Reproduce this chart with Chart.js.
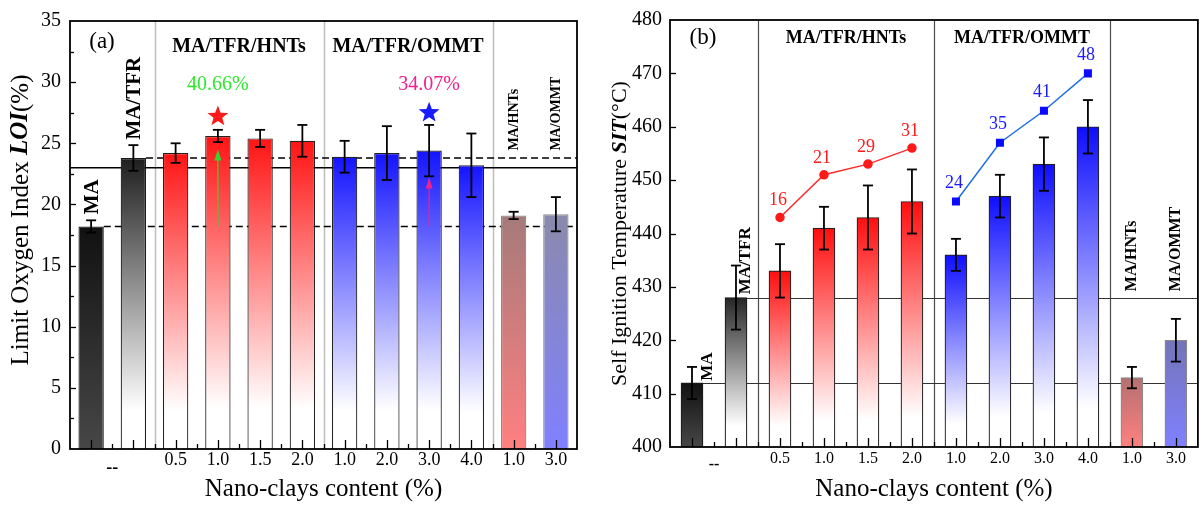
<!DOCTYPE html>
<html><head><meta charset="utf-8">
<script src="https://cdn.jsdelivr.net/npm/chart.js@4.4.1/dist/chart.umd.min.js"></script>
<style>
html,body{margin:0;padding:0;background:#fff;}
#wrap{position:relative;width:1204px;height:507px;overflow:hidden;background:#fff;}
#ca{position:absolute;left:0;top:0;}
#cb{position:absolute;left:600px;top:0;}
</style></head><body>
<div id="wrap"><canvas id="ca" width="600" height="507"></canvas><canvas id="cb" width="604" height="507"></canvas></div>
<script>
// ---------------- DATA ----------------
const positions = [1,2,3,4,5,6,7,8,9,10,11,12];
const tickLabels = ['', '', '0.5','1.0','1.5','2.0','1.0','2.0','3.0','4.0','1.0','3.0'];
const noClayLabel = '--';
const noClayTickPos = 1.5;
const groupBounds = [2.5, 6.5, 10.5];
const groupTitles = ['MA/TFR/HNTs','MA/TFR/OMMT'];
const groupCenters = [4.5, 8.5];

// (a) LOI
const loiValues = [18.2, 23.8, 24.2, 25.6, 25.4, 25.2, 23.9, 24.2, 24.4, 23.2, 19.1, 19.2];
const loiErrors = [0.5, 1.05, 0.8, 0.5, 0.7, 1.3, 1.3, 2.2, 2.1, 2.6, 0.3, 1.4];
const loiThreshold = 23;
const loiGainText = ['40.66%','34.07%'];
const loiGainPos = [4, 9];
const loiGainY = [29.8, 29.8];
const loiStarY = [27.2, 27.5];
const loiArrowTop = [24.5, 22.2];

// (b) SIT
const sitValues = [412, 428, 433, 441, 443, 446, 436, 447, 453, 460, 413, 420];
const sitErrors = [3, 6, 5, 4, 6, 6, 3, 4, 5, 5, 2, 4];
const hntPos = [3,4,5,6];
const hntSIT = [443, 451, 453, 456];
const hntIncrease = ['16','21','29','31'];
const ommtPos = [7,8,9,10];
const ommtSIT = [446, 457, 463, 470];
const ommtIncrease = ['24','35','41','48'];

// rotated sample names
const sampleNames = ['MA','MA/TFR','MA/HNTs','MA/OMMT'];
const sampleNamePosA = [1, 2, 11, 12];
const sampleNameBaseA = [19.2, 25.3, 24.4, 24.4];
const sampleNamePosB = [1.36, 2.23, 11, 12];
const sampleNameBaseB = [412.4, 428.6, 429.2, 429.2];

// ---------------- STYLE ----------------
const FONT = "'Liberation Serif','Times New Roman',serif";
const fnt = (size, weight, style) => `${style||''} ${weight||''} ${size}px ${FONT}`.trim();
const W = '#ffffff';
const stopsA = [
  [[0,'#111111'],[1,'#474747']],
  [[0,'#1e1e1e'],[0.87,W],[1,W]],
  [[0,'#ff1414'],[0.87,W],[1,W]],[[0,'#ff1414'],[0.87,W],[1,W]],[[0,'#ff1414'],[0.87,W],[1,W]],[[0,'#ff1414'],[0.87,W],[1,W]],
  [[0,'#1414ff'],[0.87,W],[1,W]],[[0,'#1414ff'],[0.87,W],[1,W]],[[0,'#1414ff'],[0.87,W],[1,W]],[[0,'#1414ff'],[0.87,W],[1,W]],
  [[0,'#a57a7a'],[1,'#ff8080']],
  [[0,'#8a8aac'],[1,'#8080ff']]
];
const stopsB = [
  [[0,'#111111'],[1,'#474747']],
  [[0,'#262626'],[0.86,W],[1,W]],
  [[0,'#ff0e0e'],[0.88,W],[1,W]],[[0,'#ff0e0e'],[0.88,W],[1,W]],[[0,'#ff0e0e'],[0.88,W],[1,W]],[[0,'#ff0e0e'],[0.88,W],[1,W]],
  [[0,'#0e0eff'],[0.88,W],[1,W]],[[0,'#0e0eff'],[0.88,W],[1,W]],[[0,'#0e0eff'],[0.88,W],[1,W]],[[0,'#0e0eff'],[0.88,W],[1,W]],
  [[0,'#b47070'],[1,'#ff8080']],
  [[0,'#7474b8'],[1,'#8080ff']]
];
const barBorders = ['#1a1a1a','#1a1a1a','#222','#222','#222','#222','#222','#222','#222','#222','#8a8a8a','#8a8a8a'];

function barFill(stops) {
  return (c) => {
    const chart = c.chart, area = chart.chartArea;
    const st = stops[c.dataIndex] || stops[0];
    if (!area || !c.raw || !chart.scales.y) return st[0][1];
    const yTop = chart.scales.y.getPixelForValue(c.raw.y);
    const g = chart.ctx.createLinearGradient(0, yTop, 0, area.bottom);
    st.forEach(([o, col]) => g.addColorStop(o, col));
    return g;
  };
}
const isInt = v => Math.abs(v - Math.round(v)) < 1e-6;

function xTickCallback(v) {
  if (Math.abs(v - noClayTickPos) < 1e-6) return ['', noClayLabel];
  if (isInt(v) && v >= 1 && v <= 12) return tickLabels[Math.round(v) - 1];
  return '';
}

function line(ctx, x1, y1, x2, y2) { ctx.beginPath(); ctx.moveTo(x1, y1); ctx.lineTo(x2, y2); ctx.stroke(); }

function drawErrorBars(chart, vals, errs, cap) {
  const {ctx, scales:{x:xs, y:ys}} = chart;
  ctx.save(); ctx.strokeStyle = '#000'; ctx.lineWidth = 1.8;
  vals.forEach((v, i) => {
    const px = xs.getPixelForValue(positions[i]);
    const t = ys.getPixelForValue(v + errs[i]), b = ys.getPixelForValue(v - errs[i]);
    line(ctx, px, t, px, b); line(ctx, px - cap, t, px + cap, t); line(ctx, px - cap, b, px + cap, b);
  });
  ctx.restore();
}

function drawInnerTicks(chart, yMajor) {
  const {ctx, chartArea:a, scales:{x:xs, y:ys}} = chart;
  ctx.save(); ctx.strokeStyle = '#000'; ctx.lineWidth = 1.3;
  xs.ticks.forEach(t => {
    if (t.value <= xs.min + 1e-6 || t.value >= xs.max - 1e-6) return;
    const px = Math.round(xs.getPixelForValue(t.value)) + 0.5;
    line(ctx, px, a.bottom, px, a.bottom - (isInt(t.value) ? 9 : 5));
  });
  ys.ticks.forEach(t => {
    if (t.value <= ys.min + 1e-6 || t.value >= ys.max - 1e-6) return;
    const py = Math.round(ys.getPixelForValue(t.value)) + 0.5;
    line(ctx, a.left, py, a.left + (Math.abs(t.value % yMajor) < 1e-6 ? 6 : 4), py);
  });
  ctx.lineWidth = 1.8;
  ctx.strokeRect(a.left, a.top, a.right - a.left, a.bottom - a.top);
  ctx.restore();
}

function drawRotated(ctx, text, x, yBottom, font) {
  ctx.save(); ctx.translate(x, yBottom); ctx.rotate(-Math.PI / 2);
  ctx.font = font; ctx.textAlign = 'left'; ctx.textBaseline = 'middle'; ctx.fillStyle = '#000';
  ctx.fillText(text, 0, 0); ctx.restore();
}

function drawRotatedParts(ctx, parts, x, yCenter) {
  ctx.save(); ctx.translate(x, yCenter); ctx.rotate(-Math.PI / 2);
  ctx.textBaseline = 'middle'; ctx.textAlign = 'left'; ctx.fillStyle = '#000';
  let total = 0;
  parts.forEach(p => { ctx.font = p.f; total += ctx.measureText(p.t).width; });
  let cx = -total / 2;
  parts.forEach(p => { ctx.font = p.f; ctx.fillText(p.t, cx, 0); cx += ctx.measureText(p.t).width; });
  ctx.restore();
}

function drawStar(ctx, cx, cy, R, r, color) {
  ctx.save(); ctx.beginPath();
  for (let k = 0; k < 10; k++) {
    const ang = -Math.PI / 2 + k * Math.PI / 5;
    const rad = k % 2 === 0 ? R : r;
    const px = cx + rad * Math.cos(ang), py = cy + rad * Math.sin(ang);
    k === 0 ? ctx.moveTo(px, py) : ctx.lineTo(px, py);
  }
  ctx.closePath(); ctx.fillStyle = color; ctx.fill(); ctx.restore();
}

function drawArrow(ctx, x, yFrom, yTo, color) {
  ctx.save(); ctx.strokeStyle = color; ctx.fillStyle = color; ctx.lineWidth = 1.2;
  line(ctx, x, yFrom, x, yTo + 8);
  ctx.beginPath(); ctx.moveTo(x, yTo); ctx.lineTo(x - 3.5, yTo + 11); ctx.lineTo(x + 3.5, yTo + 11); ctx.closePath(); ctx.fill();
  ctx.restore();
}

function text(ctx, t, x, y, font, color) {
  ctx.save(); ctx.font = font; ctx.fillStyle = color || '#000'; ctx.textAlign = 'center'; ctx.textBaseline = 'middle';
  ctx.fillText(t, x, y); ctx.restore();
}

// ---------------- PANEL (a) ----------------
const pluginA = {
  id: 'panelA',
  beforeDatasetsDraw(chart) {
    const {ctx, chartArea:a, scales:{x:xs, y:ys}} = chart;
    const meta = chart.getDatasetMeta(0);
    ctx.save();
    ctx.strokeStyle = '#bdbdbd'; ctx.lineWidth = 1.5;
    groupBounds.forEach(b => { const px = Math.round(xs.getPixelForValue(b)) + 0.5; line(ctx, px, a.top, px, a.bottom); });
    ctx.strokeStyle = '#000'; ctx.lineWidth = 1.5;
    line(ctx, a.left, ys.getPixelForValue(loiThreshold), a.right, ys.getPixelForValue(loiThreshold));
    ctx.setLineDash([7, 4]);
    [1, 0].forEach(i => {
      const el = meta.data[i]; const py = ys.getPixelForValue(loiValues[i]);
      line(ctx, el.x + el.width / 2, py, a.right, py);
    });
    ctx.restore();
  },
  afterDatasetsDraw(chart) {
    const {ctx, chartArea:a, scales:{x:xs, y:ys}} = chart;
    drawErrorBars(chart, loiValues, loiErrors, 5);
    const arrowColors = ['#2fd82f', '#f0208c'];
    const gainColors = ['#2ee82e', '#f0208c'];
    const starColors = ['#ff1a1a', '#1a1aff'];
    loiGainPos.forEach((p, k) => {
      const px = xs.getPixelForValue(p);
      drawArrow(ctx, px, ys.getPixelForValue(loiValues[0]), ys.getPixelForValue(loiArrowTop[k]), arrowColors[k]);
      drawStar(ctx, px, ys.getPixelForValue(loiStarY[k]), 11, 4.6, starColors[k]);
      text(ctx, loiGainText[k], px, ys.getPixelForValue(loiGainY[k]), fnt(20), gainColors[k]);
    });
    const nameSizes = [21, 21, 14, 14];
    sampleNames.forEach((n, k) => {
      drawRotated(ctx, n, xs.getPixelForValue(sampleNamePosA[k]) + 1, ys.getPixelForValue(sampleNameBaseA[k]), fnt(nameSizes[k], 'bold'));
    });
    groupTitles.forEach((g, k) => text(ctx, g, xs.getPixelForValue(groupCenters[k]), 47, fnt(20, 'bold')));
    text(ctx, '(a)', a.left + 32, 42, fnt(23));
    drawInnerTicks(chart, 5);
    drawRotatedParts(ctx, [
      {t:'Limit Oxygen Index ', f:fnt(25)},
      {t:'LOI', f:fnt(25, 'bold', 'italic')},
      {t:'(%)', f:fnt(25)}
    ], 21, 220);
    text(ctx, 'Nano-clays content (%)', (a.left + a.right) / 2, 489, fnt(25));
  }
};

new Chart(document.getElementById('ca'), {
  type: 'bar',
  data: { datasets: [{
    data: positions.map((p, i) => ({x: p, y: loiValues[i]})),
    backgroundColor: barFill(stopsA), borderColor: barBorders, borderWidth: 1.2,
    barPercentage: 1.2, categoryPercentage: 1, borderSkipped: 'start'
  }]},
  options: {
    responsive: false, animation: false, devicePixelRatio: 1,
    layout: { padding: { top: 17, right: 23, left: 0, bottom: 0 } },
    plugins: { legend: { display: false }, tooltip: { enabled: false } },
    scales: {
      x: { type: 'linear', min: 0.5, max: 12.5, offset: false,
        grid: { display: false, drawTicks: false }, border: { display: false },
        ticks: { stepSize: 0.5, autoSkip: false, maxRotation: 0, minRotation: 0, padding: 0, color: '#000',
          font: (c) => (c.tick && Math.abs(c.tick.value - noClayTickPos) < 1e-6) ? {family: FONT, size: 18, weight: 'bold', lineHeight: 0.72} : {family: FONT, size: 18, lineHeight: 1.2},
          callback: xTickCallback },
        afterFit: s => { s.height = 58; } },
      y: { min: 0, max: 35,
        grid: { display: false, drawTicks: false }, border: { display: false },
        ticks: { stepSize: 2.5, padding: 9, color: '#000', font: {family: FONT, size: 20},
          callback: v => (Math.abs(v % 5) < 1e-6 ? String(v) : '') },
        afterFit: s => { s.width = 70; } }
    }
  },
  plugins: [pluginA]
});

// ---------------- PANEL (b) ----------------
const pluginB = {
  id: 'panelB',
  beforeDatasetsDraw(chart) {
    const {ctx, chartArea:a, scales:{x:xs, y:ys}} = chart;
    const meta = chart.getDatasetMeta(2);
    ctx.save();
    ctx.strokeStyle = '#4d4d4d'; ctx.lineWidth = 1.2;
    groupBounds.forEach(b => { const px = Math.round(xs.getPixelForValue(b)) + 0.5; line(ctx, px, a.top, px, a.bottom); });
    ctx.strokeStyle = '#333'; ctx.lineWidth = 1;
    [1, 0].forEach(i => {
      const el = meta.data[i]; const py = Math.round(ys.getPixelForValue(sitValues[i])) + 0.5;
      line(ctx, el.x + el.width / 2, py, a.right, py);
    });
    ctx.restore();
  },
  afterDatasetsDraw(chart) {
    const {ctx, chartArea:a, scales:{x:xs, y:ys}} = chart;
    drawErrorBars(chart, sitValues, sitErrors, 5);
    hntPos.forEach((p, k) => text(ctx, hntIncrease[k], xs.getPixelForValue(p) - 2, ys.getPixelForValue(hntSIT[k]) - 17, fnt(18), '#ff1a1a'));
    ommtPos.forEach((p, k) => text(ctx, ommtIncrease[k], xs.getPixelForValue(p) - 2, ys.getPixelForValue(ommtSIT[k]) - 18, fnt(18), '#1a1aff'));
    const nameSizes = [17, 17, 16, 16];
    sampleNames.forEach((n, k) => {
      drawRotated(ctx, n, xs.getPixelForValue(sampleNamePosB[k]), ys.getPixelForValue(sampleNameBaseB[k]), fnt(nameSizes[k], 'bold'));
    });
    groupTitles.forEach((g, k) => text(ctx, g, xs.getPixelForValue(groupCenters[k]), 38, fnt(18, 'bold')));
    text(ctx, '(b)', a.left + 33, 38, fnt(23));
    drawInnerTicks(chart, 10);
    drawRotatedParts(ctx, [
      {t:'Self Ignition Temperature ', f:fnt(22)},
      {t:'SIT', f:fnt(22, 'bold', 'italic')},
      {t:'(°C)', f:fnt(22)}
    ], 20, (a.top + a.bottom) / 2);
    text(ctx, 'Nano-clays content (%)', (a.left + a.right) / 2, 489, fnt(25));
  }
};

new Chart(document.getElementById('cb'), {
  type: 'bar',
  data: { datasets: [
    { type: 'line', order: 0, data: hntPos.map((p, i) => ({x: p, y: hntSIT[i]})),
      borderColor: '#ff2a2a', borderWidth: 1.5, pointStyle: 'circle', pointRadius: 4,
      pointBackgroundColor: '#ff1a1a', pointBorderColor: '#ff1a1a', fill: false, tension: 0 },
    { type: 'line', order: 0, data: ommtPos.map((p, i) => ({x: p, y: ommtSIT[i]})),
      borderColor: '#1f6fe0', borderWidth: 1.5, pointStyle: 'rect', pointRadius: 4.6,
      pointBackgroundColor: '#0a0aff', pointBorderColor: '#0a0aff', fill: false, tension: 0 },
    { type: 'bar', order: 1, data: positions.map((p, i) => ({x: p, y: sitValues[i]})),
      backgroundColor: barFill(stopsB), borderColor: barBorders, borderWidth: 1.2,
      barPercentage: 1.0, categoryPercentage: 1, borderSkipped: 'start' }
  ]},
  options: {
    responsive: false, animation: false, devicePixelRatio: 1,
    layout: { padding: { top: 17, right: 3, left: 0, bottom: 0 } },
    plugins: { legend: { display: false }, tooltip: { enabled: false } },
    scales: {
      x: { type: 'linear', min: 0.5, max: 12.5, offset: false,
        grid: { display: false, drawTicks: false }, border: { display: false },
        ticks: { stepSize: 0.5, autoSkip: false, maxRotation: 0, minRotation: 0, padding: 2, color: '#000',
          font: (c) => (c.tick && Math.abs(c.tick.value - noClayTickPos) < 1e-6) ? {family: FONT, size: 16, weight: 'bold', lineHeight: 0.68} : {family: FONT, size: 16, lineHeight: 1.2},
          callback: xTickCallback },
        afterFit: s => { s.height = 60; } },
      y: { min: 400, max: 480,
        grid: { display: false, drawTicks: false }, border: { display: false },
        ticks: { stepSize: 5, padding: 8, color: '#000', font: {family: FONT, size: 20},
          callback: v => (Math.abs(v % 10) < 1e-6 ? String(v) : '') },
        afterFit: s => { s.width = 70; } }
    }
  },
  plugins: [pluginB]
});
</script>
</body></html>
